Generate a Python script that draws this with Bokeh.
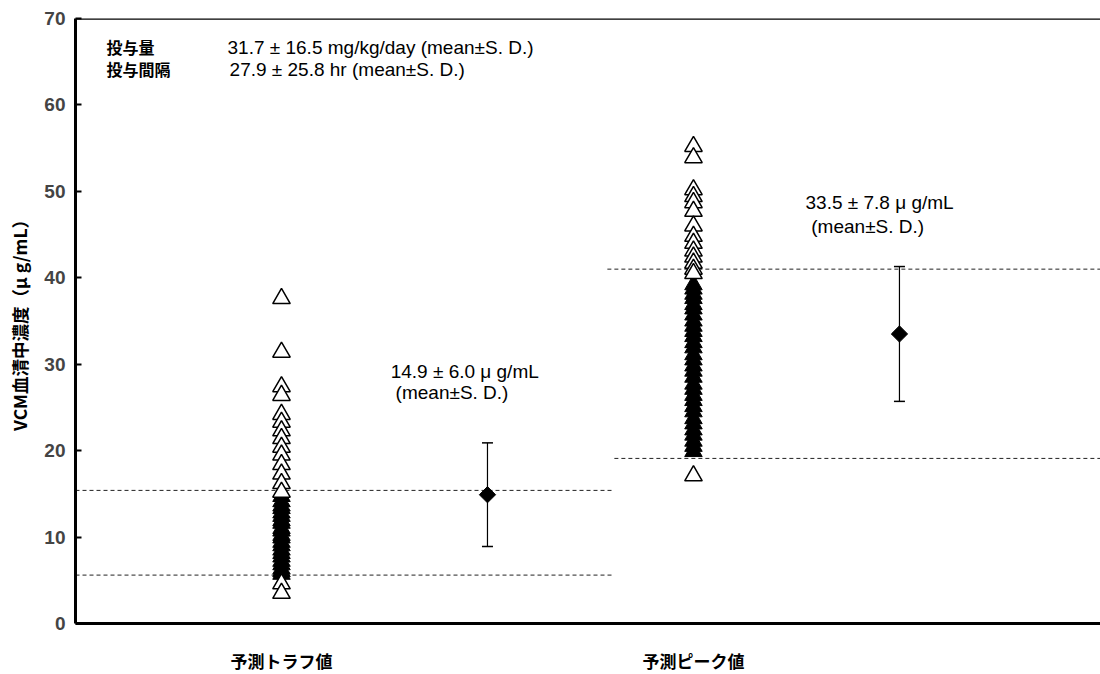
from math import pi
from bokeh.plotting import figure
from bokeh.models import ColumnDataSource, Whisker, Span, FixedTicker, TeeHead
from bokeh.core.properties import value
from bokeh.embed import file_html
from bokeh.resources import INLINE

# ---------------- data ----------------
categories = ["予測トラフ値", "予測ピーク値"]
group_x = [1, 2]
mean_x = [1.5, 2.5]

trough_open = [37.6, 31.4, 27.4, 26.4, 24.2, 23.3, 22.3, 21.4, 20.4, 19.5,
               18.4, 17.3, 16.2, 15.2, 4.6, 3.5]
trough_filled = [14.7, 14.1, 13.6, 13.3, 12.8, 12.4, 11.9, 11.6, 11.0, 10.7,
                 10.2, 9.9, 9.4, 9.0, 8.5, 8.1, 7.7, 7.2, 6.8, 6.3, 6.0, 5.7]

peak_open = [55.2, 53.9, 50.2, 49.4, 48.7, 47.7, 46.0, 44.8, 44.0, 43.1,
             42.4, 41.7, 41.0, 40.5, 17.1]
peak_filled = [39.2, 38.7, 38.1, 37.6, 36.9, 36.4, 35.7, 35.0, 34.4, 33.8,
               33.2, 32.5, 31.9, 31.1, 30.5, 29.8, 29.2, 28.5, 27.7, 27.1,
               26.4, 25.8, 25.1, 24.5, 23.7, 23.1, 22.4, 21.8, 21.1, 20.5, 19.9]

means = [14.9, 33.5]
sds = [6.0, 7.8]

trough_band = [5.6, 15.4]
peak_band = [19.1, 41.0]

dose_label = ["投与量", "投与間隔"]
dose_text = ["31.7 ± 16.5 mg/kg/day (mean±S. D.)", "27.9 ± 25.8 hr  (mean±S. D.)"]
mean_text = ["14.9 ± 6.0 μ g/mL", "33.5 ± 7.8 μ g/mL"]
sd_note = "(mean±S. D.)"

# ---------------- figure ----------------
X_END = 2.988
p = figure(width=1100, height=674, x_range=(0.5, X_END), y_range=(0, 70),
           output_backend="svg", toolbar_location=None,
           min_border_left=75, min_border_right=0, min_border_top=18, min_border_bottom=47)
p.outline_line_color = None
p.xgrid.visible = False
p.ygrid.visible = False
p.background_fill_color = "white"
p.border_fill_color = "white"

# top frame line
p.add_layout(Span(location=70, dimension="width", line_color="black", line_width=2.5))

# dashed band lines
p.segment(x0=[0.5, 0.5], x1=[1.808, 1.808], y0=trough_band, y1=trough_band,
          line_color="#222222", line_width=1, line_dash="4 3")
p.segment(x0=[1.808, 1.791], x1=[X_END, X_END], y0=peak_band, y1=peak_band,
          line_color="#222222", line_width=1, line_dash="4 3")

# individual values
TRI = 17.5
p.scatter([group_x[0]] * len(trough_filled), trough_filled, marker="triangle", size=TRI,
          fill_color="black", line_color="black", line_width=1)
p.scatter([group_x[1]] * len(peak_filled), peak_filled, marker="triangle", size=TRI,
          fill_color="black", line_color="black", line_width=1)
p.scatter([group_x[0]] * len(trough_open), trough_open, marker="triangle", size=TRI,
          fill_color="white", line_color="black", line_width=1.5)
p.scatter([group_x[1]] * len(peak_open), peak_open, marker="triangle", size=TRI,
          fill_color="white", line_color="black", line_width=1.5)

# mean ± SD
src = ColumnDataSource(dict(x=mean_x, m=means,
                            lo=[m - s for m, s in zip(means, sds)],
                            hi=[m + s for m, s in zip(means, sds)]))
p.add_layout(Whisker(source=src, base="x", lower="lo", upper="hi", dimension="height",
                     line_color="black", line_width=1.2,
                     upper_head=TeeHead(size=11, line_width=1.5),
                     lower_head=TeeHead(size=11, line_width=1.5)))
p.scatter("x", "m", source=src, marker="square", angle=pi / 4, size=11.5,
          fill_color="black", line_color="black")

# texts
jp = value("Noto Sans CJK JP")
num = value("Liberation Sans")
p.text(x=[0.575, 0.575], y=[66.7, 64.1], text=dose_label, text_font=jp,
       text_font_size="16px", text_font_style="bold", text_baseline="middle",
       text_color="black")
p.text(x=[0.869, 0.874], y=[66.7, 64.1], text=dose_text, text_font=num,
       text_font_size="19px", text_baseline="middle", text_color="black")
p.text(x=[1.265, 2.272], y=[29.2, 48.7], text=mean_text, text_font=num,
       text_font_size="19px", text_baseline="middle", text_color="black")
p.text(x=[1.277, 2.286], y=[26.7, 45.9], text=[sd_note, sd_note], text_font=num,
       text_font_size="19px", text_baseline="middle", text_color="black")

# axes
ya = p.yaxis[0]
ya.ticker = FixedTicker(ticks=[0, 10, 20, 30, 40, 50, 60, 70])
ya.axis_line_width = 3
ya.major_tick_in = 6
ya.major_tick_out = 0
ya.major_tick_line_width = 2
ya.minor_tick_line_color = None
ya.major_label_text_font = "Liberation Sans"
ya.major_label_text_font_style = "bold"
ya.major_label_text_font_size = "19px"
ya.major_label_standoff = 10
ya.axis_label = "VCM血清中濃度（μ g/mL）"
ya.axis_label_text_font = "Noto Sans CJK JP"
ya.axis_label_text_font_style = "bold"
ya.axis_label_text_font_size = "17.5px"
ya.axis_label_text_color = "black"
ya.axis_label_standoff = 9

xa = p.xaxis[0]
xa.ticker = FixedTicker(ticks=group_x)
xa.major_label_overrides = {gx: c for gx, c in zip(group_x, categories)}
xa.axis_line_width = 3
xa.major_tick_in = 0
xa.major_tick_out = 0
xa.major_tick_line_color = None
xa.minor_tick_line_color = None
xa.major_label_text_font = "'Liberation Sans', 'Noto Sans CJK JP'"
xa.major_label_text_font_style = "bold"
xa.major_label_text_font_size = "17px"
xa.major_label_text_color = "black"
xa.major_label_standoff = 29

open("out.html", "w").write(file_html(p, INLINE))
